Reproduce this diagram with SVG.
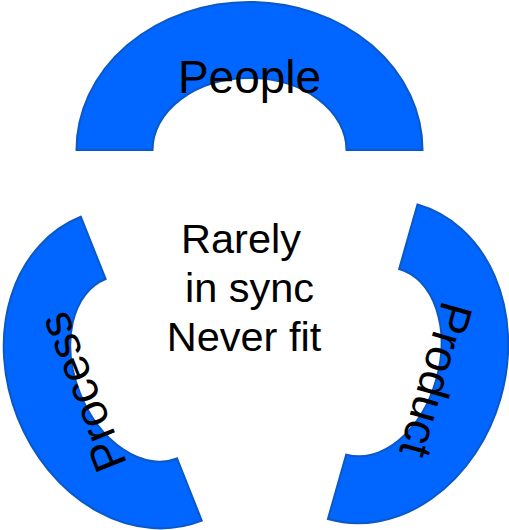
<svg xmlns="http://www.w3.org/2000/svg" width="509" height="530" viewBox="0 0 509 530">
  <style>
    .arc { fill: #0066FF; stroke: #0B58C6; stroke-width: 2; stroke-linejoin: miter; }
    .lbl { font-family: "Liberation Sans", Arial, sans-serif; font-size: 46px; fill: #000; text-anchor: middle; }
    .ctr { font-family: "Liberation Sans", Arial, sans-serif; font-size: 41.5px; fill: #000; text-anchor: middle; }
  </style>
  <defs>
    <path id="bigArc" d="M -173 0 A 173 148 0 0 1 173 0 L 97 0 A 97 72 0 0 0 -97 0 Z"/>
    <path id="sideArc" d="M -163.5 0 A 163.5 133 0 0 1 163.5 0 L 96.5 0 A 96.5 66 0 0 0 -96.5 0 Z"/>
  </defs>
  <g id="connectors"/>
  <g id="people" transform="translate(249.5,150)">
    <use href="#bigArc" class="arc"/>
    <text class="lbl" x="0" y="-57">People</text>
  </g>
  <g id="process" transform="translate(141.3,368.7) rotate(-111.7)">
    <use href="#sideArc" class="arc"/>
    <text class="lbl" x="0" y="-48">Process</text>
  </g>
  <g id="product" transform="translate(372.7,361.8) rotate(105.9)">
    <use href="#sideArc" class="arc"/>
    <text class="lbl" x="0" y="-50">Product</text>
  </g>
  <g id="center">
    <text class="ctr" x="241" y="253">Rarely</text>
    <text class="ctr" x="249.5" y="302">in sync</text>
    <text class="ctr" x="244" y="351">Never fit</text>
  </g>
</svg>
